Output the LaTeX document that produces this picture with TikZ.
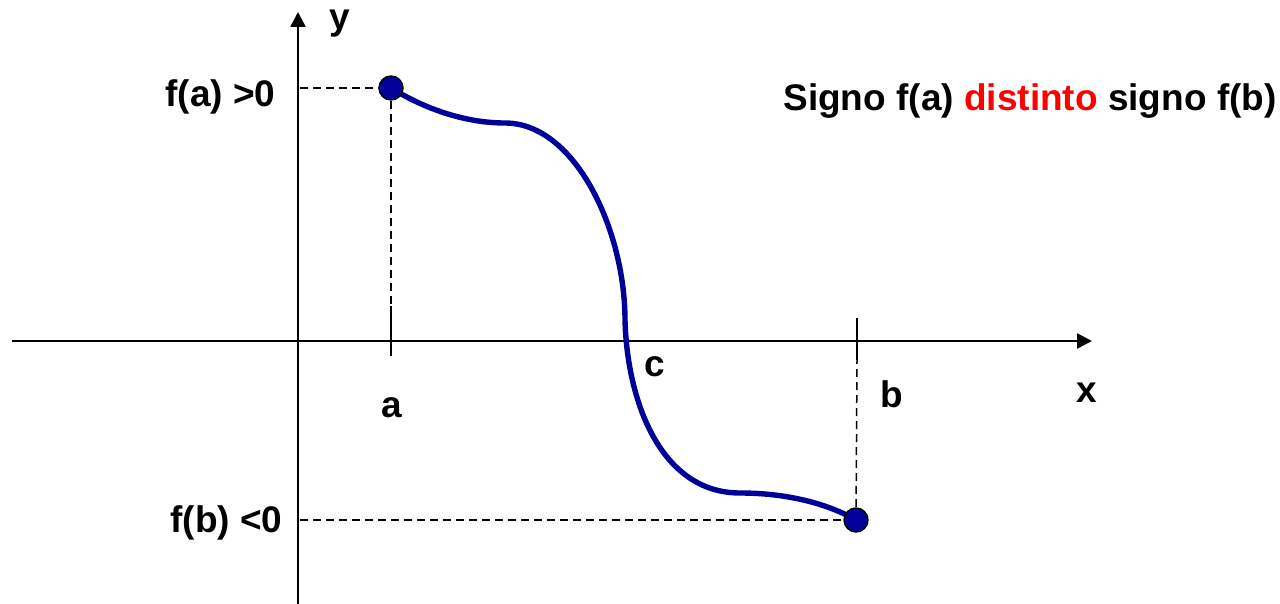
\documentclass[tikz,border=0pt]{standalone}
\usepackage{fontspec}
\setmainfont{Liberation Sans}
\usetikzlibrary{arrows.meta}
\definecolor{fblue}{RGB}{0,0,153}

\begin{document}
\begin{tikzpicture}[x=0.5pt, y=-0.5pt,
    font=\bfseries\fontsize{18.5}{22}\selectfont,
    axis/.style={line width=1.3pt, -{Triangle[length=7.5pt, width=7.5pt]}},
    guide/.style={line width=0.75pt, dash pattern=on 4pt off 2.5pt},
    tickmark/.style={line width=1pt},
    curve/.style={line width=2.7pt, draw=fblue},
    endpt/.style={circle, draw=black, line width=0.7pt, fill=fblue, minimum size=12pt, inner sep=0pt},
    lbl/.style={inner sep=0pt, anchor=base}]
\useasboundingbox (0,0) rectangle (1280,604);

%
\coordinate (yb) at (298,604);
\coordinate (yt) at (298,12);
\coordinate (xl) at (12,341);
\coordinate (xr) at (1092,341);
\coordinate (pa) at (391,88);
\coordinate (pb) at (856,520);
\draw[axis] (yb) -- (yt);
\draw[axis] (xl) -- (xr);

%
\coordinate (fa) at (300,88);
\coordinate (fb) at (300,520);
\coordinate (ta) at (391,306);
\coordinate (tb) at (857,318);
\draw[guide] (fa) -- (pa);
\draw[guide] (fb) -- (pb);
\draw[guide] (pa) -- (ta);
\draw[guide] (pb) -- (857,360);
\draw[tickmark] (ta) -- (391,356);
\draw[tickmark] (tb) -- (857,360);

%
\draw[curve] (pa) .. controls (430,112) and (470,123) .. (505,123)
    .. controls (575,123) and (625,230) .. (625,320)
    .. controls (627,400) and (660,493) .. (740,493)
    .. controls (790,493) and (830,505) .. (pb);
\node[endpt] (A) at (pa) {};
\node[endpt] (B) at (pb) {};

%
\node[lbl] (ly) at (340,30) {y};
\node[lbl] (lx) at (1087,402) {x};
\node[lbl] (la) at (392,417) {a};
\node[lbl] (lb) at (892,408) {b};
\node[lbl] (lc) at (655,376) {c};
\node[lbl, anchor=base east] (lfa) at (276,107) {f(a) >0};
\node[lbl, anchor=base east] (lfb) at (283,532) {f(b) <0};
\node[lbl, anchor=base west] (title) at (783,111)
    {Signo f(a) \textcolor{red}{distinto} signo f(b)};
\end{tikzpicture}
\end{document}
